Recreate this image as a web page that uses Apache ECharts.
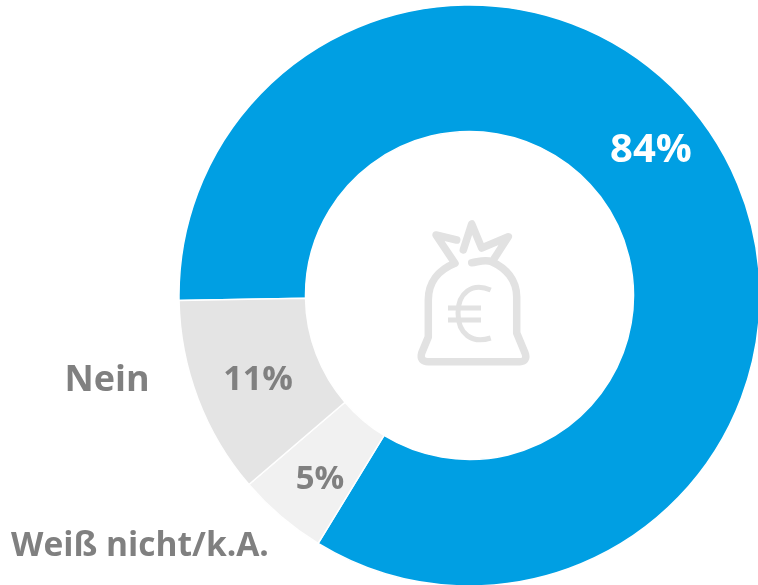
<!DOCTYPE html>
<html>
<head>
<meta charset="utf-8">
<style>
  html, body { margin: 0; padding: 0; background: #fff; }
  #chart { width: 758px; height: 585px; }
</style>
</head>
<body>
<div id="chart"></div>
<script src="https://cdn.jsdelivr.net/npm/echarts@6/dist/echarts.min.js"></script>
<script>
const categories = ['Ja', 'Weiß nicht/k.A.', 'Nein'];
const values = [84, 5, 11];
const colors = ['#009fe3', '#f1f1f1', '#e4e4e4'];

// Labels do not sit at the slice centres in the original
const labelPos = [[651, 151], [320, 480], [258, 380]];
const labelSize = [40, 33, 34];
const labelColor = ['#fff', '#808080', '#808080'];

const font = '"Open Sans", sans-serif';

// money bag icon
const bagPath = 'M456.7 240 L436 235 L455 263.3 C438 270 428.3 283 428.3 300 L428.3 337 L421.7 353 ' +
  'C420 359 423 361.7 428 361.7 L520 361.7 C525 361.7 527 358 525 353 L516.7 333 L516.7 297 ' +
  'C516.7 280 506 268 491.7 261.7 C485 259 478 262 471.7 262.7 M493.3 260 L508.3 236.7 L481.7 248 ' +
  'L471.7 224 L463.3 250';
const euroPath = 'M490.7 290 C472 282 458 293 458 313 C458 334 472 344 490.7 338 M448 308 L481 308 M448 320 L481 320';

const chart = echarts.init(document.getElementById('chart'), null, { renderer: 'canvas' });

chart.setOption({
  animation: false,
  backgroundColor: '#fff',
  graphic: [
    { type: 'text', z: 5, x: 107, y: 381,
      style: { text: categories[2], font: 'bold 36px ' + font, fill: '#808080', align: 'center', verticalAlign: 'middle' } },
    { type: 'text', z: 5, x: 140, y: 546,
      style: { text: categories[1], font: 'bold 33.5px ' + font, fill: '#808080', align: 'center', verticalAlign: 'middle' } }
  ],
  series: [
    {
      type: 'pie',
      center: [469.5, 295.5],
      radius: [164, 290.5],
      startAngle: 181,
      clockwise: true,
      silent: true,
      itemStyle: { borderColor: '#fff', borderWidth: 1.5 },
      label: { show: true, position: 'inside', fontFamily: font, fontWeight: 'bold', formatter: '{c}%' },
      labelLine: { show: false },
      labelLayout: function (params) {
        const p = labelPos[params.dataIndex];
        return { x: p[0], y: p[1], align: 'center', verticalAlign: 'middle' };
      },
      data: categories.map(function (name, i) {
        return {
          name: name,
          value: values[i],
          itemStyle: { color: colors[i] },
          label: { fontSize: labelSize[i], color: labelColor[i] }
        };
      })
    },
    {
      // graphic has no free path element, the custom series does
      type: 'custom',
      coordinateSystem: 'none',
      silent: true,
      z: 5,
      data: [0],
      renderItem: function () {
        return {
          type: 'group',
          children: [
            { type: 'path', shape: { pathData: bagPath },
              style: { fill: 'none', stroke: '#e2e2e2', lineWidth: 7.5, lineCap: 'round', lineJoin: 'round' } },
            { type: 'path', shape: { pathData: euroPath },
              style: { fill: 'none', stroke: '#e2e2e2', lineWidth: 5 } }
          ]
        };
      }
    }
  ]
});
</script>
</body>
</html>
